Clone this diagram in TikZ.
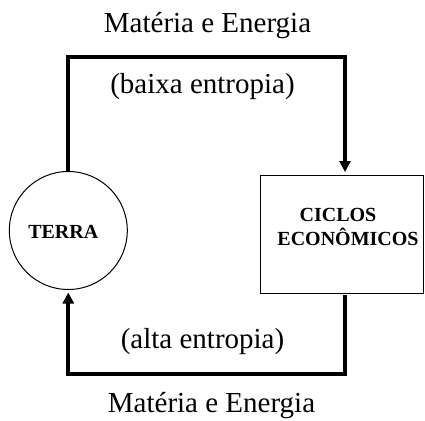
\documentclass[tikz,border=0pt]{standalone}
\usepackage{fontspec}
\setmainfont{Liberation Serif}
\usetikzlibrary{arrows.meta}
\begin{document}
\begin{tikzpicture}[x=1pt,y=-1pt,
  flow/.style={line width=4pt, line join=miter, -{Triangle[length=11pt,width=11pt]}},
  lbl/.style={font=\fontsize{29}{29}\selectfont, anchor=base, inner sep=0pt},
  blbl/.style={font=\fontsize{20}{20}\selectfont\bfseries, anchor=base, inner sep=0pt}]
\useasboundingbox (0,0) rectangle (425,420);
\node[draw, circle, line width=1pt, minimum size=118pt, inner sep=0pt] (terra) at (68.3,230.5) {};
\node[draw, rectangle, line width=1pt, minimum width=163pt, minimum height=118pt, anchor=north west, inner sep=0pt] (ciclos) at (260,175) {};
\node[blbl] (terratxt) at (63.3,238) {TERRA};
\node[blbl] (ciclostxt) at (338,221.7) {CICLOS};
\node[blbl] (econtxt) at (348,245) {ECONÔMICOS};
\coordinate (tl) at (68.3,56.7);
\coordinate (tr) at (345,56.7);
\coordinate (bl) at (68.3,374.3);
\coordinate (br) at (345,374.3);
\coordinate (rtop) at (345,295);
\draw[flow, shorten >=3pt] (terra.north) -- (tl) -- (tr) -- (tr |- ciclos.north);
\draw[flow, shorten >=2.5pt] (rtop) -- (br) -- (bl) -- (terra.south);
\node[lbl] (topme) at (207.5,33) {Matéria e Energia};
\node[lbl] (baixa) at (202.5,93) {(baixa entropia)};
\node[lbl] (alta) at (202.5,348) {(alta entropia)};
\node[lbl] (botme) at (211.5,412) {Matéria e Energia};
\end{tikzpicture}
\end{document}
